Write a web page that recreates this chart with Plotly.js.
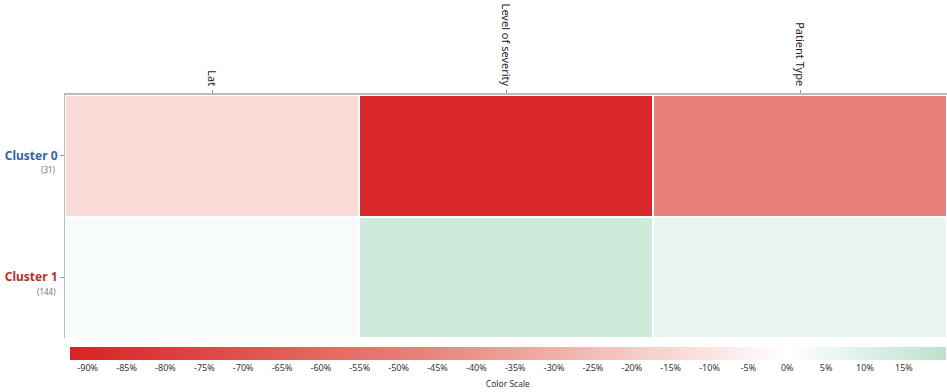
<!DOCTYPE html>
<html>
<head>
<meta charset="utf-8">
<script src="https://cdn.plot.ly/plotly-3.0.1.min.js"></script>
<style>html,body{margin:0;padding:0;background:#fff;}#chart{width:947px;height:392px;}</style>
</head>
<body>
<div id="chart"></div>
<script>
// Data
const columns = ['Lat', 'Level of severity', 'Patient Type'];
const clusters = ['Cluster 0', 'Cluster 1'];
const clusterCounts = ['(31)', '(144)'];
const clusterColors = ['#3566a0', '#b8302c'];
const cluster0Values = [-14, -90, -48];
const cluster1Values = [2.5, 15, 7];
const scaleTicks = [-90, -85, -80, -75, -70, -65, -60, -55, -50, -45, -40, -35, -30, -25, -20, -15, -10, -5, 0, 5, 10, 15];

const zmin = -92.3, zmax = 20.4;
const zeroFrac = (0 - zmin) / (zmax - zmin);

const trace = {
  type: 'heatmap',
  x: columns,
  y: clusters,
  z: [cluster0Values, cluster1Values],
  zmin: zmin,
  zmax: zmax,
  xgap: 2,
  ygap: 2,
  colorscale: [
    [0, 'rgb(216,34,36)'],
    [zeroFrac * 0.5, 'rgb(232,132,122)'],
    [zeroFrac, 'rgb(255,255,255)'],
    [1, 'rgb(188,226,205)']
  ],
  hoverinfo: 'skip',
  colorbar: {
    orientation: 'h',
    xref: 'container', yref: 'container',
    x: 75 / 947, xanchor: 'left',
    y: 1 - 347 / 392, yanchor: 'top',
    lenmode: 'pixels', len: 876,
    thickness: 13,
    thicknessmode: 'pixels',
    outlinewidth: 0,
    bgcolor: 'rgba(0,0,0,0)',
    tickmode: 'array',
    tickvals: scaleTicks,
    ticktext: scaleTicks.map(v => v + '%'),
    ticks: '',
    ticklabeloverflow: 'allow',
    tickfont: {family: 'Noto Sans, sans-serif', size: 9, color: '#333'},
    title: {text: 'Color Scale', side: 'bottom', font: {family: 'Noto Sans, sans-serif', size: 8.5, color: '#333'}},
    xpad: 0, ypad: 0
  }
};

const annotations = clusters.map((c, i) => ({
  xref: 'paper', yref: 'y',
  x: 0, y: c,
  xanchor: 'right', yanchor: 'middle',
  xshift: -7, yshift: -14,
  text: clusterCounts[i],
  showarrow: false,
  font: {family: 'Noto Sans, sans-serif', size: 8, color: '#777'}
}));

const layout = {
  width: 947, height: 392,
  margin: {l: 65, r: 0, t: 95, b: 54},
  paper_bgcolor: '#fff', plot_bgcolor: '#fff',
  showlegend: false,
  xaxis: {
    side: 'top',
    type: 'category',
    tickangle: 90,
    ticks: 'outside', ticklen: 3, tickcolor: '#999',
    showline: true, linecolor: '#bbb', linewidth: 2,
    showgrid: false, zeroline: false,
    tickfont: {family: 'Noto Sans, sans-serif', size: 11, color: '#222'}
  },
  yaxis: {
    type: 'category',
    autorange: 'reversed',
    tickmode: 'array',
    tickvals: clusters,
    ticktext: clusters.map((c, i) => `<span style="color:${clusterColors[i]}"><b>${c}</b></span>`),
    ticks: 'outside', ticklen: 4, tickcolor: '#999',
    showline: true, linecolor: '#bbb', linewidth: 1,
    showgrid: false, zeroline: false,
    tickfont: {family: 'Noto Sans, sans-serif', size: 12}
  },
  annotations: annotations
};

Plotly.newPlot('chart', [trace], layout, {displayModeBar: false, staticPlot: true});
</script>
</body>
</html>
